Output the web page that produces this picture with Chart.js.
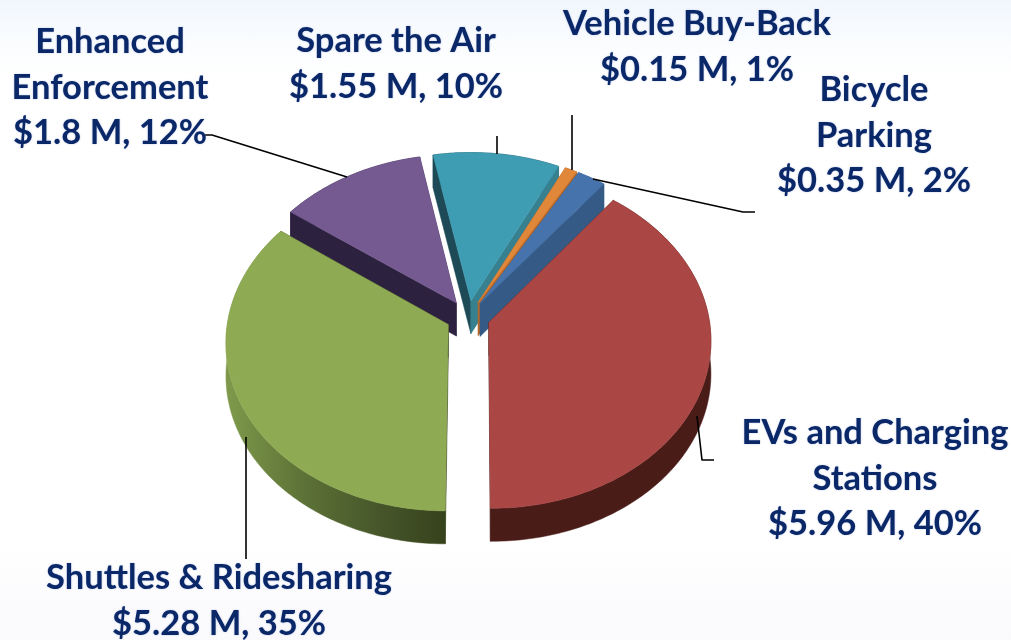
<!DOCTYPE html>
<html><head><meta charset="utf-8">
<script src="https://cdn.jsdelivr.net/npm/chart.js@4/dist/chart.umd.min.js"></script>
<style>
html,body{margin:0;padding:0;width:1011px;height:640px;overflow:hidden;
background:linear-gradient(180deg,#f1f6fd 0,#f8fbfe 30px,#ffffff 75px,#ffffff 540px,#fafafd 640px);}
canvas{display:block}
</style></head><body>
<canvas id="c" width="1011" height="640"></canvas>
<script>
// ---- data ----
const categories = ["EVs and Charging Stations","Shuttles & Ridesharing","Enhanced Enforcement","Spare the Air","Vehicle Buy-Back","Bicycle Parking"];
const millions = [5.96,5.28,1.8,1.55,0.15,0.35];
const percents = [40,35,12,10,1,2];
const labelLines = [["EVs and Charging","Stations"],["Shuttles & Ridesharing"],["Enhanced","Enforcement"],["Spare the Air"],["Vehicle Buy-Back"],["Bicycle","Parking"]];
// ---- styles ----
const topColors = ["#aa4644","#8eab53","#755a91","#3f9db3","#e0873a","#4673ab"];
const startFace = ["#4a1c18","#3a4720","#2d2140","#1d4a56","#a8602a","#355a85"];
const endFace   = ["#4a1c18","#3a4720","#2d2140","#37808f","#b5682a","#355a85"];
const outerFace = ["#4a1c18","green","#2d2140","#1d4a56","#a8602a","#355a85"];
const paintOrder = [3,4,5,2,1,0];
const labelPos = [[875,444],[219,589],[110,53],[396,52],[697,35],[874,101]];
const leaders = [
 [[697,416],[702,460],[714,460]],
 [[246,437],[246,559]],
 [[203,135],[212,135],[347,177]],
 [[497,136],[497,154]],
 [[572,115],[572,170]],
 [[593,179],[743,212],[755,212]]
];
const P = 0.1, SY = 0.755, DEPTH = 33, LINE = 45.5;
const FONT = 'bold 34.5px Lato, "Open Sans", sans-serif';

function project(cx,cy,R,u,v){ // u,v in px on the pie plane (v toward the back)
  const d = 1 + P*v/R;
  return [cx + u/d, cy - SY*v/d];
}
function outline(arc){
  const R = arc.outerRadius, off = arc.options.offset || 0;
  const mid = (arc.startAngle+arc.endAngle)/2;
  const ox = Math.cos(mid)*off, oy = -Math.sin(mid)*off;
  const pts = [], n = Math.max(4,Math.ceil((arc.endAngle-arc.startAngle)/0.015));
  for(let i=0;i<=n;i++){
    const a = arc.startAngle+(arc.endAngle-arc.startAngle)*i/n;
    pts.push(project(arc.x,arc.y,R,ox+Math.cos(a)*R,oy-Math.sin(a)*R));
  }
  return {apex:project(arc.x,arc.y,R,ox,oy),pts};
}
function poly(ctx,pts,fill){
  ctx.beginPath();
  pts.forEach((p,i)=> i?ctx.lineTo(p[0],p[1]):ctx.moveTo(p[0],p[1]));
  ctx.closePath(); ctx.fillStyle=fill; ctx.fill();
  ctx.strokeStyle=fill; ctx.lineWidth=0.5; ctx.stroke();
}
const down = p=>[p[0],p[1]+DEPTH];
const pie3d = {
  id:'pie3d',
  beforeDatasetsDraw(chart){
    const ctx = chart.ctx, arcs = chart.getDatasetMeta(0).data;
    paintOrder.forEach(i=>{
      const {apex,pts} = outline(arcs[i]);
      const first = pts[0], last = pts[pts.length-1];
      let fill = outerFace[i];
      if(fill==='green'){
        fill = ctx.createLinearGradient(230,0,445,0);
        fill.addColorStop(0,'#7d984a'); fill.addColorStop(0.35,'#5c7136');
        fill.addColorStop(0.7,'#46562a'); fill.addColorStop(1,'#36421c');
      }
      poly(ctx,pts.concat(pts.slice().reverse().map(down)),fill);
      poly(ctx,[apex,first,down(first),down(apex)],startFace[i]);
      poly(ctx,[apex,last,down(last),down(apex)],endFace[i]);
      poly(ctx,[apex].concat(pts),topColors[i]);
    });
    return false;
  },
  afterDraw(chart){
    const ctx = chart.ctx;
    ctx.save();
    ctx.strokeStyle='#000'; ctx.lineWidth=1.6; ctx.lineJoin='round';
    leaders.forEach(l=>{
      ctx.beginPath();
      l.forEach((p,i)=> i?ctx.lineTo(p[0],p[1]):ctx.moveTo(p[0],p[1]));
      ctx.stroke();
    });
    ctx.font=FONT; ctx.textAlign='center'; ctx.textBaseline='alphabetic';
    ctx.fillStyle='#0a2768'; ctx.shadowColor='rgba(130,150,210,.55)'; ctx.shadowBlur=2;
    categories.forEach((c,i)=>{
      const lines = labelLines[i].concat(['$'+millions[i]+' M, '+percents[i]+'%']);
      lines.forEach((t,k)=> ctx.fillText(t,labelPos[i][0],labelPos[i][1]+k*LINE));
    });
    ctx.restore();
  }
};
new Chart(document.getElementById('c'),{
  type:'pie',
  data:{labels:categories,datasets:[{data:millions,backgroundColor:topColors,offset:22,borderWidth:0}]},
  options:{
    responsive:false,animation:false,rotation:38,radius:220,
    layout:{padding:{right:75,bottom:6}},
    plugins:{legend:{display:false},tooltip:{enabled:false}}
  },
  plugins:[pie3d]
});
</script>
</body></html>
